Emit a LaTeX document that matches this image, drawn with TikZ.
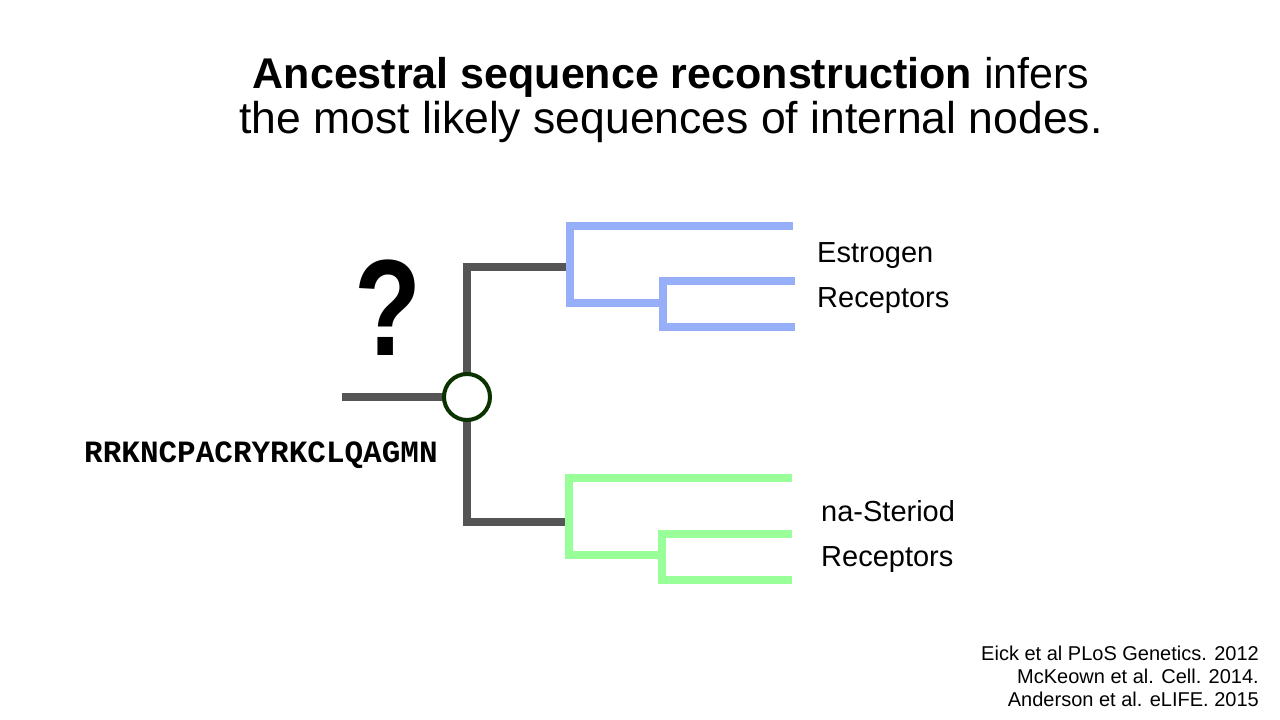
\documentclass[tikz,border=0pt]{standalone}
\usepackage{fontspec}
\setmainfont{Liberation Sans}
\newfontfamily\seqfont{Liberation Mono}

\definecolor{stemgrey}{HTML}{555555}
\definecolor{erblue}{HTML}{96AFF8}
\definecolor{srgreen}{HTML}{99FF99}
\definecolor{ancgreen}{HTML}{0B3300}

\begin{document}
\begin{tikzpicture}[x=1pt, y=-1pt,
    branch/.style={line width=8pt},
    lbl/.style={anchor=base west, inner sep=0pt, font=\fontsize{29}{36}\selectfont},
    ref/.style={anchor=base east, inner sep=0pt, font=\fontsize{20}{24}\selectfont}]
    \useasboundingbox (0,0) rectangle (1280,720);

    % Titel
    \node[anchor=base, inner sep=0pt, font=\fontsize{43}{50}\selectfont] (title1) at (671,88) {\textbf{Ancestral sequence reconstruction} infers};
    \node[anchor=base, inner sep=0pt, font=\fontsize{44.5}{50}\selectfont] (title2) at (671,133) {the most likely sequences of internal nodes.};

    % Baum: Punkte
    \coordinate (stem) at (342,397);
    \coordinate (er) at (570,267);
    \coordinate (sr) at (569,522);
    \coordinate (erA) at (793,226);
    \coordinate (erin) at (663,303);
    \coordinate (erB) at (795,281);
    \coordinate (erC) at (795,327);
    \coordinate (srA) at (792,478);
    \coordinate (srin) at (662,555);
    \coordinate (srB) at (792,534);
    \coordinate (srC) at (792,580);
    \node[circle, minimum size=46pt, inner sep=0pt] (anc) at (467,397) {};

    % graue Aeste
    \draw[branch, stemgrey] (stem) -- (anc.center);
    \draw[branch, stemgrey] (anc.center) |- (er);
    \draw[branch, stemgrey] (anc.center) |- (sr);

    % Estrogen-Rezeptoren
    \draw[branch, erblue] (erA) -| (er) |- (erin);
    \draw[branch, erblue] (erB) -| (erin) |- (erC);

    % Steroid-Rezeptoren
    \draw[branch, srgreen] (srA) -| (sr) |- (srin);
    \draw[branch, srgreen] (srB) -| (srin) |- (srC);

    % Vorfahr
    \draw[ancgreen, line width=4pt, fill=white] (anc) circle (23pt);
    \node[anchor=base, inner sep=0pt, xscale=0.8, font=\fontsize{137}{137}\selectfont\bfseries] (quest) at (388,355) {?};
    \node[anchor=base west, inner sep=0pt, font=\fontsize{31}{36}\selectfont\seqfont\bfseries] (seq) at (84,462) {RRKNCPACRYRKCLQAGMN};

    % Beschriftung
    \node[lbl] (erlbl1) at (817,262) {Estrogen};
    \node[lbl] (erlbl2) at (817,307) {Receptors};
    \node[lbl] (srlbl1) at (821,521) {na-Steriod};
    \node[lbl] (srlbl2) at (821,566) {Receptors};

    % Quellen
    \node[ref] (ref1) at (1259,660) {Eick et al PLoS Genetics. 2012};
    \node[ref] (ref2) at (1259,683) {McKeown et al. Cell. 2014.};
    \node[ref] (ref3) at (1259,706) {Anderson et al. eLIFE. 2015};
\end{tikzpicture}
\end{document}
